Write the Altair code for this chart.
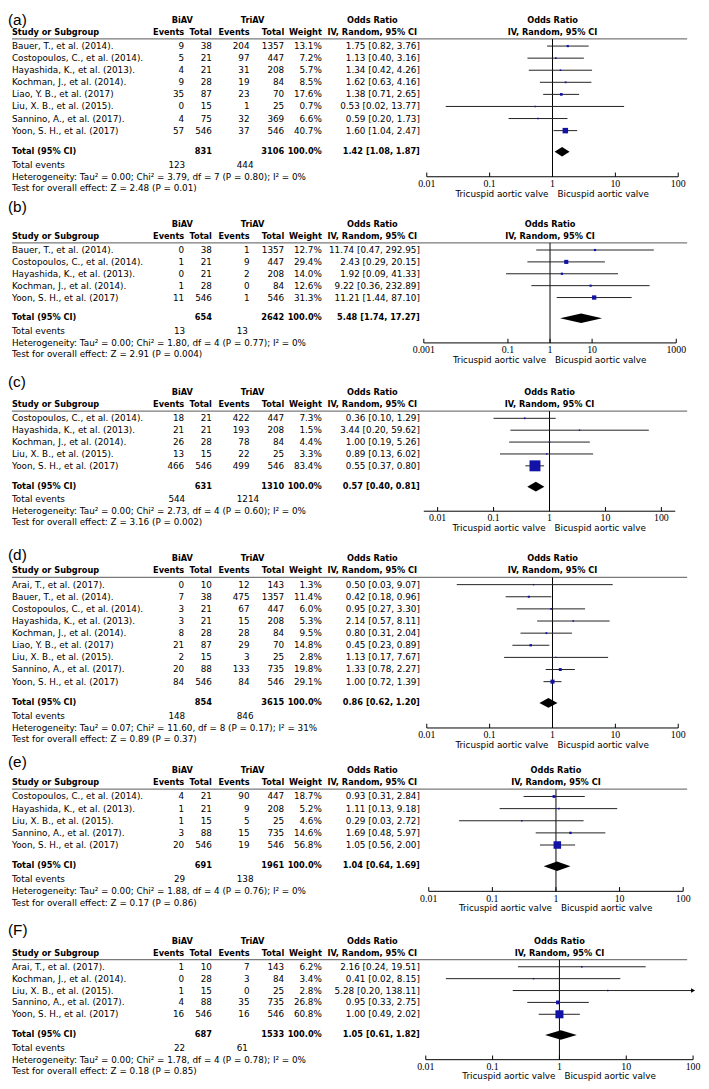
import altair as alt
import pandas as pd

# ------------------------------------------------------------------ data
# (a)
a_study = ["Bauer, T., et al. (2014).", "Costopoulos, C., et al. (2014).", "Hayashida, K., et al. (2013).",
           "Kochman, J., et al. (2014).", "Liao, Y. B., et al. (2017)", "Liu, X. B., et al. (2015).",
           "Sannino, A., et al. (2017).", "Yoon, S. H., et al. (2017)"]
a_bi_ev = [9, 5, 4, 9, 35, 0, 4, 57]
a_bi_tot = [38, 21, 21, 28, 87, 15, 75, 546]
a_tri_ev = [204, 97, 31, 19, 23, 1, 32, 37]
a_tri_tot = [1357, 447, 208, 84, 70, 25, 369, 546]
a_weight = [13.1, 7.2, 5.7, 8.5, 17.6, 0.7, 6.6, 40.7]
a_or = [1.75, 1.13, 1.34, 1.62, 1.38, 0.53, 0.59, 1.60]
a_lo = [0.82, 0.40, 0.42, 0.63, 0.71, 0.02, 0.20, 1.04]
a_hi = [3.76, 3.16, 4.26, 4.16, 2.65, 13.77, 1.73, 2.47]
a_totals = [831, 3106]
a_events = [123, 444]
a_pooled = [1.42, 1.08, 1.87]
a_het = "Heterogeneity: Tau² = 0.00; Chi² = 3.79, df = 7 (P = 0.80); I² = 0%"
a_test = "Test for overall effect: Z = 2.48 (P = 0.01)"
a_ticks = [0.01, 0.1, 1, 10, 100]
a_tick_labels = ["0.01", "0.1", "1", "10", "100"]

# (b)
b_study = ["Bauer, T., et al. (2014).", "Costopoulos, C., et al. (2014).", "Hayashida, K., et al. (2013).",
           "Kochman, J., et al. (2014).", "Yoon, S. H., et al. (2017)"]
b_bi_ev = [0, 1, 0, 1, 11]
b_bi_tot = [38, 21, 21, 28, 546]
b_tri_ev = [1, 9, 2, 0, 1]
b_tri_tot = [1357, 447, 208, 84, 546]
b_weight = [12.7, 29.4, 14.0, 12.6, 31.3]
b_or = [11.74, 2.43, 1.92, 9.22, 11.21]
b_lo = [0.47, 0.29, 0.09, 0.36, 1.44]
b_hi = [292.95, 20.15, 41.33, 232.89, 87.10]
b_totals = [654, 2642]
b_events = [13, 13]
b_pooled = [5.48, 1.74, 17.27]
b_het = "Heterogeneity: Tau² = 0.00; Chi² = 1.80, df = 4 (P = 0.77); I² = 0%"
b_test = "Test for overall effect: Z = 2.91 (P = 0.004)"
b_ticks = [0.001, 0.1, 1, 10, 1000]
b_tick_labels = ["0.001", "0.1", "1", "10", "1000"]

# (c)
c_study = ["Costopoulos, C., et al. (2014).", "Hayashida, K., et al. (2013).", "Kochman, J., et al. (2014).",
           "Liu, X. B., et al. (2015).", "Yoon, S. H., et al. (2017)"]
c_bi_ev = [18, 21, 26, 13, 466]
c_bi_tot = [21, 21, 28, 15, 546]
c_tri_ev = [422, 193, 78, 22, 499]
c_tri_tot = [447, 208, 84, 25, 546]
c_weight = [7.3, 1.5, 4.4, 3.3, 83.4]
c_or = [0.36, 3.44, 1.00, 0.89, 0.55]
c_lo = [0.10, 0.20, 0.19, 0.13, 0.37]
c_hi = [1.29, 59.62, 5.26, 6.02, 0.80]
c_totals = [631, 1310]
c_events = [544, 1214]
c_pooled = [0.57, 0.40, 0.81]
c_het = "Heterogeneity: Tau² = 0.00; Chi² = 2.73, df = 4 (P = 0.60); I² = 0%"
c_test = "Test for overall effect: Z = 3.16 (P = 0.002)"
c_ticks = [0.01, 0.1, 1, 10, 100]
c_tick_labels = ["0.01", "0.1", "1", "10", "100"]

# (d)
d_study = ["Arai, T., et al. (2017).", "Bauer, T., et al. (2014).", "Costopoulos, C., et al. (2014).",
           "Hayashida, K., et al. (2013).", "Kochman, J., et al. (2014).", "Liao, Y. B., et al. (2017)",
           "Liu, X. B., et al. (2015).", "Sannino, A., et al. (2017).", "Yoon, S. H., et al. (2017)"]
d_bi_ev = [0, 7, 3, 3, 8, 21, 2, 20, 84]
d_bi_tot = [10, 38, 21, 21, 28, 87, 15, 88, 546]
d_tri_ev = [12, 475, 67, 15, 28, 29, 3, 133, 84]
d_tri_tot = [143, 1357, 447, 208, 84, 70, 25, 735, 546]
d_weight = [1.3, 11.4, 6.0, 5.3, 9.5, 14.8, 2.8, 19.8, 29.1]
d_or = [0.50, 0.42, 0.95, 2.14, 0.80, 0.45, 1.13, 1.33, 1.00]
d_lo = [0.03, 0.18, 0.27, 0.57, 0.31, 0.23, 0.17, 0.78, 0.72]
d_hi = [9.07, 0.96, 3.30, 8.11, 2.04, 0.89, 7.67, 2.27, 1.39]
d_totals = [854, 3615]
d_events = [148, 846]
d_pooled = [0.86, 0.62, 1.20]
d_het = "Heterogeneity: Tau² = 0.07; Chi² = 11.60, df = 8 (P = 0.17); I² = 31%"
d_test = "Test for overall effect: Z = 0.89 (P = 0.37)"
d_ticks = [0.01, 0.1, 1, 10, 100]
d_tick_labels = ["0.01", "0.1", "1", "10", "100"]

# (e)
e_study = ["Costopoulos, C., et al. (2014).", "Hayashida, K., et al. (2013).", "Liu, X. B., et al. (2015).",
           "Sannino, A., et al. (2017).", "Yoon, S. H., et al. (2017)"]
e_bi_ev = [4, 1, 1, 3, 20]
e_bi_tot = [21, 21, 15, 88, 546]
e_tri_ev = [90, 9, 5, 15, 19]
e_tri_tot = [447, 208, 25, 735, 546]
e_weight = [18.7, 5.2, 4.6, 14.6, 56.8]
e_or = [0.93, 1.11, 0.29, 1.69, 1.05]
e_lo = [0.31, 0.13, 0.03, 0.48, 0.56]
e_hi = [2.84, 9.18, 2.72, 5.97, 2.00]
e_totals = [691, 1961]
e_events = [29, 138]
e_pooled = [1.04, 0.64, 1.69]
e_het = "Heterogeneity: Tau² = 0.00; Chi² = 1.88, df = 4 (P = 0.76); I² = 0%"
e_test = "Test for overall effect: Z = 0.17 (P = 0.86)"
e_ticks = [0.01, 0.1, 1, 10, 100]
e_tick_labels = ["0.01", "0.1", "1", "10", "100"]

# (F)
f_study = ["Arai, T., et al. (2017).", "Kochman, J., et al. (2014).", "Liu, X. B., et al. (2015).",
           "Sannino, A., et al. (2017).", "Yoon, S. H., et al. (2017)"]
f_bi_ev = [1, 0, 1, 4, 16]
f_bi_tot = [10, 28, 15, 88, 546]
f_tri_ev = [7, 3, 0, 35, 16]
f_tri_tot = [143, 84, 25, 735, 546]
f_weight = [6.2, 3.4, 2.8, 26.8, 60.8]
f_or = [2.16, 0.41, 5.28, 0.95, 1.00]
f_lo = [0.24, 0.02, 0.20, 0.33, 0.49]
f_hi = [19.51, 8.15, 138.11, 2.75, 2.02]
f_totals = [687, 1533]
f_events = [22, 61]
f_pooled = [1.05, 0.61, 1.82]
f_het = "Heterogeneity: Tau² = 0.00; Chi² = 1.78, df = 4 (P = 0.78); I² = 0%"
f_test = "Test for overall effect: Z = 0.18 (P = 0.85)"
f_ticks = [0.01, 0.1, 1, 10, 100]
f_tick_labels = ["0.01", "0.1", "1", "10", "100"]

panel_labels = ["(a)", "(b)", "(c)", "(d)", "(e)", "(F)"]
group_labels = ["BiAV", "TriAV"]
left_label = "Tricuspid aortic valve"
right_label = "Bicuspid aortic valve"

# ------------------------------------------------------------------ style / layout
FONT = "DejaVu Sans"
FS = 8.9
FSB = 8.3
LABEL_FS = 15.5
W = 695
BLUE = "#1212A6"
# per panel: page-top, page-y of first study, row pitch, height, x-scale domain & pixel range,
# page-y of the top of the panel letter
LAYOUT = [
    dict(top=8, row0=41, u=12.2, H=192, xdom=[0.01, 100], xr=[423, 677], labtop=8),
    dict(top=200, row0=247, u=12.0, H=172, xdom=[0.001, 1000], xr=[420, 675], labtop=197),
    dict(top=372, row0=417, u=12.0, H=168, xdom=[0.00566, 177], xr=[420, 674], labtop=373),
    dict(top=540, row0=585, u=12.25, H=217, xdom=[0.01, 100], xr=[423, 677], labtop=548),
    dict(top=757, row0=799, u=12.25, H=171, xdom=[0.01, 100], xr=[425, 682], labtop=757),
    dict(top=928, row0=971, u=12.0, H=161, xdom=[0.01, 100], xr=[422, 692], labtop=927),
]
X_STUDY, X_BE, X_BT, X_TE, X_TT, X_W, X_OR = 4, 178, 206, 244, 279, 317, 416
X_BI_HEAD, X_TRI_HEAD, X_OR_HEAD = 176, 247, 368

PANELS = [
    (a_study, a_bi_ev, a_bi_tot, a_tri_ev, a_tri_tot, a_weight, a_or, a_lo, a_hi, a_totals, a_events, a_pooled, a_het, a_test, a_ticks, a_tick_labels),
    (b_study, b_bi_ev, b_bi_tot, b_tri_ev, b_tri_tot, b_weight, b_or, b_lo, b_hi, b_totals, b_events, b_pooled, b_het, b_test, b_ticks, b_tick_labels),
    (c_study, c_bi_ev, c_bi_tot, c_tri_ev, c_tri_tot, c_weight, c_or, c_lo, c_hi, c_totals, c_events, c_pooled, c_het, c_test, c_ticks, c_tick_labels),
    (d_study, d_bi_ev, d_bi_tot, d_tri_ev, d_tri_tot, d_weight, d_or, d_lo, d_hi, d_totals, d_events, d_pooled, d_het, d_test, d_ticks, d_tick_labels),
    (e_study, e_bi_ev, e_bi_tot, e_tri_ev, e_tri_tot, e_weight, e_or, e_lo, e_hi, e_totals, e_events, e_pooled, e_het, e_test, e_ticks, e_tick_labels),
    (f_study, f_bi_ev, f_bi_tot, f_tri_ev, f_tri_tot, f_weight, f_or, f_lo, f_hi, f_totals, f_events, f_pooled, f_het, f_test, f_ticks, f_tick_labels),
]


def fmt_or(o, l, h):
    return f"{o:.2f} [{l:.2f}, {h:.2f}]"


def build_panel(idx):
    (study, be, bt, te, tt, w, est, lo, hi, totals, events, pooled, het, test, ticks, tick_labels) = PANELS[idx]
    L = LAYOUT[idx]
    n = len(study)
    r_total = (n - 1) + 1.75
    r_ev = r_total + 1.07
    r_het = r_ev + 1.0
    r_test = r_het + 0.95
    r_axis = r_het
    r_tick = r_axis + 0.6
    r_sub = r_axis + 1.4
    r_bi, r_hd, r_line = -2.1, -1.1, -0.6
    r_lab = (L["labtop"] - L["row0"]) / L["u"]
    d0 = -(L["row0"] - L["top"]) / L["u"]
    d1 = d0 + L["H"] / L["u"]

    yscale = alt.Scale(domain=[d0, d1], reverse=True, nice=False, zero=False)
    xscale = alt.Scale(type="log", domain=L["xdom"], range=L["xr"], clamp=True, nice=False)

    def Y(f):
        return alt.Y(f, type="quantitative", scale=yscale, axis=None)

    def X(f):
        return alt.X(f, type="quantitative", scale=xscale, axis=None)

    rows = pd.DataFrame({
        "row": list(range(n)), "study": study,
        "be": [str(v) for v in be], "bt": [str(v) for v in bt],
        "te": [str(v) for v in te], "tt": [str(v) for v in tt],
        "w": w, "ws": [f"{v:.1f}%" for v in w],
        "est": est, "lo": lo, "hi": hi,
        "ors": [fmt_or(o, l, h) for o, l, h in zip(est, lo, hi)],
    })

    layers = []

    def txt(df, field, x, align, bold=False, font=FONT, size=None, dx=0, xenc=None, baseline="middle"):
        if size is None:
            size = FSB if bold else FS
        mk = alt.Chart(df).mark_text(align=align, baseline=baseline, font=font, fontSize=size,
                                     fontWeight="bold" if bold else "normal", color="black", dx=dx)
        enc = dict(y=Y("row"), text=alt.Text(f"{field}:N"))
        enc["x"] = xenc if xenc is not None else alt.value(x)
        return mk.encode(**enc)

    def one(row, t):
        return pd.DataFrame({"row": [row], "t": [t], "one": [1.0]})

    # panel label
    layers.append(txt(one(r_lab, panel_labels[idx]), "t", 0, "left", font="Liberation Sans", size=LABEL_FS,
                      baseline="top"))
    # headers
    layers.append(txt(one(r_bi, group_labels[0]), "t", X_BI_HEAD, "center", bold=True))
    layers.append(txt(one(r_bi, group_labels[1]), "t", X_TRI_HEAD, "center", bold=True))
    layers.append(txt(one(r_bi, "Odds Ratio"), "t", X_OR_HEAD, "center", bold=True))
    layers.append(txt(one(r_bi, "Odds Ratio"), "t", 0, "center", bold=True, xenc=X("one")))
    layers.append(txt(one(r_hd, "Study or Subgroup"), "t", X_STUDY, "left", bold=True))
    layers.append(txt(one(r_hd, "Events"), "t", X_BE, "right", bold=True))
    layers.append(txt(one(r_hd, "Total"), "t", X_BT, "right", bold=True))
    layers.append(txt(one(r_hd, "Events"), "t", X_TE, "right", bold=True))
    layers.append(txt(one(r_hd, "Total"), "t", X_TT, "right", bold=True))
    layers.append(txt(one(r_hd, "Weight"), "t", X_W, "right", bold=True))
    layers.append(txt(one(r_hd, "IV, Random, 95% CI"), "t", X_OR_HEAD, "center", bold=True))
    layers.append(txt(one(r_hd, "IV, Random, 95% CI"), "t", 0, "center", bold=True, xenc=X("one")))
    # header underline
    layers.append(alt.Chart(one(r_line, "")).mark_rule(color="#7a7a7a", strokeWidth=1.3).encode(
        x=alt.value(4), x2=alt.value(686), y=Y("row")))

    # study rows
    layers.append(txt(rows, "study", X_STUDY, "left"))
    layers.append(txt(rows, "be", X_BE, "right"))
    layers.append(txt(rows, "bt", X_BT, "right"))
    layers.append(txt(rows, "te", X_TE, "right"))
    layers.append(txt(rows, "tt", X_TT, "right"))
    layers.append(txt(rows, "ws", X_W, "right"))
    layers.append(txt(rows, "ors", X_OR, "right"))

    # total row
    layers.append(txt(one(r_total, "Total (95% CI)"), "t", X_STUDY, "left", bold=True))
    layers.append(txt(one(r_total, str(totals[0])), "t", X_BT, "right", bold=True))
    layers.append(txt(one(r_total, str(totals[1])), "t", X_TT, "right", bold=True))
    layers.append(txt(one(r_total, "100.0%"), "t", X_W, "right", bold=True))
    layers.append(txt(one(r_total, fmt_or(*pooled)), "t", X_OR, "right", bold=True))
    # footer
    layers.append(txt(one(r_ev, "Total events"), "t", X_STUDY, "left"))
    layers.append(txt(one(r_ev, str(events[0])), "t", X_BE + 1, "right"))
    layers.append(txt(one(r_ev, str(events[1])), "t", 231, "left"))
    layers.append(txt(one(r_het, het), "t", X_STUDY, "left"))
    layers.append(txt(one(r_test, test), "t", X_STUDY, "left"))

    # forest: line of no effect
    nl = pd.DataFrame({"one": [1.0], "y1": [r_line], "y2": [r_axis]})
    layers.append(alt.Chart(nl).mark_rule(color="black", strokeWidth=1).encode(
        x=X("one"), y=Y("y1"), y2="y2"))
    # CI whiskers
    layers.append(alt.Chart(rows).mark_rule(color="#222222", strokeWidth=1).encode(
        x=X("lo"), x2="hi", y=Y("row")))
    # arrows for CIs running off the scale
    off = rows[rows["hi"] > L["xdom"][1]]
    if len(off):
        layers.append(alt.Chart(off).mark_point(shape="triangle-right", filled=True, color="black",
                                                size=22, opacity=1, dx=-2).encode(x=X("hi"), y=Y("row")))
    # squares
    layers.append(alt.Chart(rows).mark_square(filled=True, color=BLUE, opacity=1).encode(
        x=X("est"), y=Y("row"),
        size=alt.Size("w:Q", scale=alt.Scale(type="pow", exponent=2, domain=[0, 100], range=[2, 175]),
                      legend=None)))
    # pooled diamond
    h = 0.4
    dia = pd.DataFrame({"x": [pooled[1], pooled[0], pooled[2]],
                        "y1": [r_total, r_total - h, r_total],
                        "y2": [r_total, r_total + h, r_total]})
    layers.append(alt.Chart(dia).mark_area(color="black", opacity=1, orient="vertical").encode(
        x=X("x"), y=Y("y1"), y2="y2"))
    # axis
    ax = pd.DataFrame({"a": [L["xdom"][0]], "b": [L["xdom"][1]], "row": [r_axis]})
    layers.append(alt.Chart(ax).mark_rule(color="black", strokeWidth=1).encode(
        x=X("a"), x2="b", y=Y("row")))
    tk = pd.DataFrame({"t": ticks, "lab": tick_labels, "y1": [r_axis] * len(ticks),
                       "y2": [r_axis - 0.35] * len(ticks), "row": [r_tick] * len(ticks)})
    layers.append(alt.Chart(tk).mark_rule(color="black", strokeWidth=1).encode(
        x=X("t"), y=Y("y1"), y2="y2"))
    layers.append(alt.Chart(tk).mark_text(font="Liberation Serif", fontSize=10, baseline="middle",
                                          color="black").encode(x=X("t"), y=Y("row"), text="lab:N"))
    sub = pd.DataFrame({"one": [1.0], "row": [r_sub], "l": [left_label], "r": [right_label]})
    layers.append(alt.Chart(sub).mark_text(font=FONT, fontSize=FS, align="right", baseline="middle",
                                           dx=-4, color="black").encode(x=X("one"), y=Y("row"), text="l:N"))
    layers.append(alt.Chart(sub).mark_text(font=FONT, fontSize=FS, align="left", baseline="middle",
                                           dx=5, color="black").encode(x=X("one"), y=Y("row"), text="r:N"))

    return alt.layer(*layers).properties(width=W, height=L["H"])


chart = alt.vconcat(*[build_panel(i) for i in range(6)], spacing=0, bounds="flush").resolve_scale(
    x="independent", y="independent", size="independent"
).configure_view(stroke=None).properties(padding=0)

chart.save("out.html", embed_options={"renderer": "svg", "actions": False})
